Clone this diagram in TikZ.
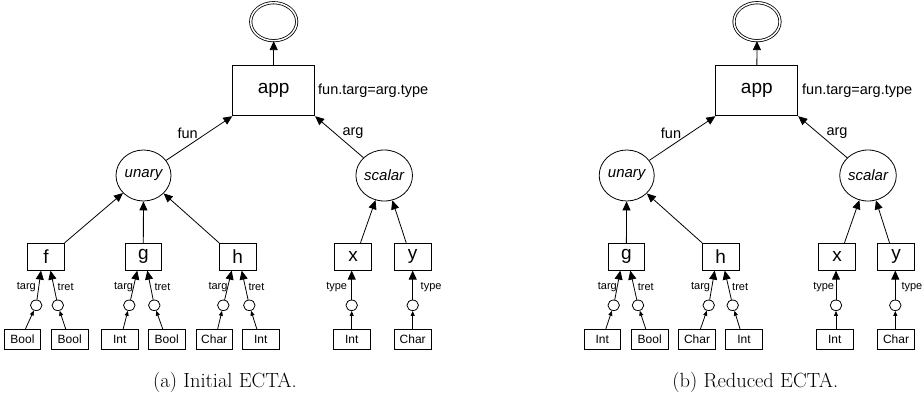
\documentclass[tikz,border=0pt]{standalone}
\usepackage{fontspec}
\newfontfamily\hv{Liberation Sans}
\usetikzlibrary{shapes.geometric,arrows.meta}
\tikzset{
  base/.style={line width=0.8pt},
  boxn/.style={draw, base, rectangle, minimum width=36.5pt, minimum height=27pt, inner sep=0pt, font=\hv\fontsize{19}{19}\selectfont},
  appn/.style={draw, base, rectangle, minimum width=82pt, minimum height=50pt, inner sep=0pt, font=\hv\fontsize{19}{19}\selectfont},
  leaf/.style={draw, base, rectangle, minimum width=36.5pt, minimum height=20.5pt, inner sep=0pt, font=\hv\fontsize{12}{12}\selectfont},
  st/.style={draw, base, ellipse, minimum width=11.5pt, minimum height=10.5pt, inner sep=0pt},
  cls/.style={draw, base, ellipse, minimum width=55pt, minimum height=51pt, inner sep=0pt, font=\hv\itshape\fontsize{15}{15}\selectfont},
  fin/.style={draw, base, ellipse, double, double distance=1.5pt, minimum width=46pt, minimum height=38pt, inner sep=0pt},
  lbl/.style={font=\hv\fontsize{11}{11}\selectfont, inner sep=0pt},
  elbl/.style={font=\hv\fontsize{14.5}{14.5}\selectfont, inner sep=0pt},
  capn/.style={font=\fontsize{20.5}{20.5}\selectfont, inner sep=0pt},
  arr/.style={base, -{Triangle[length=9pt,width=8pt]}},
  sarr/.style={base, -{Triangle[length=5pt,width=4pt]}}
}
\begin{document}
\begin{tikzpicture}[x=1pt,y=-1pt]
\useasboundingbox (0,0) rectangle (924,401);
% ---------------- left panel ----------------
\node[fin] (atop) at (273.7,21.7) {};
\node[appn] (aapp) at (273.7,90.8) {app};
\node[elbl, anchor=west] (acon) at (318,90.7) {fun.targ=arg.type};
\node[cls] (aun) at (143.5,175.5) {unary};
\node[cls] (asc) at (384.2,175.5) {scalar};
\node[elbl] (afun) at (187.7,133.3) {fun};
\node[elbl] (aarg) at (353,133.3) {arg};
\node[boxn] (af) at (46,256.7) {f};
\node[boxn] (ag) at (143.3,256.7) {g};
\node[boxn] (ah) at (237.7,256.7) {h};
\node[boxn] (ax) at (353,256.7) {x};
\node[boxn] (ay) at (412.7,256.7) {y};
\node[st] (af1) at (36.2,305.3) {};
\node[st] (af2) at (57.8,305.3) {};
\node[st] (ag1) at (129.3,305.3) {};
\node[st] (ag2) at (154.3,305.3) {};
\node[st] (ah1) at (223.3,305.3) {};
\node[st] (ah2) at (249.3,305.3) {};
\node[st] (ax1) at (351.7,305.3) {};
\node[st] (ay1) at (412.7,305.3) {};
\node[leaf] (al1) at (22.5,339.5) {Bool};
\node[leaf] (al2) at (69.7,339.5) {Bool};
\node[leaf] (al3) at (119.7,339.5) {Int};
\node[leaf] (al4) at (166.7,339.5) {Bool};
\node[leaf] (al5) at (214.2,339.5) {Char};
\node[leaf] (al6) at (260.8,339.5) {Int};
\node[leaf] (al7) at (351.7,339.5) {Int};
\node[leaf] (al8) at (412.7,339.5) {Char};
\node[lbl, anchor=east] (aft) at (36,287) {targ};
\node[lbl, anchor=west] (afr) at (57.5,287) {tret};
\node[lbl, anchor=east] (agt) at (133.3,287) {targ};
\node[lbl, anchor=west] (agr) at (154.3,287) {tret};
\node[lbl, anchor=east] (aht) at (227.7,287) {targ};
\node[lbl, anchor=west] (ahr) at (248.3,287) {tret};
\node[lbl, anchor=east] (axt) at (347.3,287) {type};
\node[lbl, anchor=west] (ayt) at (420.5,287) {type};
\node[capn] (acap) at (225,382.7) {(a) Initial ECTA.};
\draw[arr] (aapp) -- (atop);
\draw[arr] (aun) -- (aapp.south west);
\draw[arr] (asc) -- (aapp.south east);
\draw[arr] (af.north east) -- (aun);
\draw[arr] (ag) -- (aun);
\draw[arr] (ah.north west) -- (aun);
\draw[arr] ([xshift=7.5pt]ax.north) -- (asc);
\draw[arr] ([xshift=-6.5pt]ay.north) -- (asc);
\draw[arr] (af1) -- ([xshift=-5pt]af.south);
\draw[arr] (af2) -- ([xshift=4.5pt]af.south);
\draw[arr] (ag1) -- ([xshift=-6pt]ag.south);
\draw[arr] (ag2) -- ([xshift=4pt]ag.south);
\draw[arr] (ah1) -- ([xshift=-6pt]ah.south);
\draw[arr] (ah2) -- ([xshift=4pt]ah.south);
\draw[arr] (ax1) -- (ax.south -| ax1);
\draw[arr] (ay1) -- (ay.south -| ay1);
\draw[sarr] ([xshift=3pt]al1.north) -- (af1);
\draw[sarr] ([xshift=-4pt]al2.north) -- (af2);
\draw[sarr] ([xshift=3.5pt]al3.north) -- (ag1);
\draw[sarr] ([xshift=-4pt]al4.north) -- (ag2);
\draw[sarr] ([xshift=3.5pt]al5.north) -- (ah1);
\draw[sarr] ([xshift=-4pt]al6.north) -- (ah2);
\draw[sarr] (al7.north -| ax1) -- (ax1);
\draw[sarr] (al8.north -| ay1) -- (ay1);
% ---------------- right panel ----------------
\node[fin] (btop) at (757,21.7) {};
\node[appn] (bapp) at (756.8,90.8) {app};
\node[elbl, anchor=west] (bcon) at (802,90.7) {fun.targ=arg.type};
\node[cls] (bun) at (626.7,175.5) {unary};
\node[cls] (bsc) at (868,175.5) {scalar};
\node[elbl] (bfun) at (671,133.3) {fun};
\node[elbl] (barg) at (837,133.3) {arg};
\node[boxn] (bg) at (626.3,256.7) {g};
\node[boxn] (bh) at (720.7,256.7) {h};
\node[boxn] (bx) at (837,256.7) {x};
\node[boxn] (by) at (896,256.7) {y};
\node[st] (bg1) at (613.7,305.3) {};
\node[st] (bg2) at (638,305.3) {};
\node[st] (bh1) at (708.7,305.3) {};
\node[st] (bh2) at (732.7,305.3) {};
\node[st] (bx1) at (836,305.3) {};
\node[st] (by1) at (895.3,305.3) {};
\node[leaf] (bl1) at (602.3,339.5) {Int};
\node[leaf] (bl2) at (649.7,339.5) {Bool};
\node[leaf] (bl3) at (697,339.5) {Char};
\node[leaf] (bl4) at (744,339.5) {Int};
\node[leaf] (bl5) at (834.7,339.5) {Int};
\node[leaf] (bl6) at (896,339.5) {Char};
\node[lbl, anchor=east] (bgt) at (617,287) {targ};
\node[lbl, anchor=west] (bgr) at (637.7,287) {tret};
\node[lbl, anchor=east] (bht) at (710.3,287) {targ};
\node[lbl, anchor=west] (bhr) at (732,287) {tret};
\node[lbl, anchor=east] (bxt) at (834.3,287) {type};
\node[lbl, anchor=west] (byt) at (901.3,287) {type};
\node[capn] (bcap) at (755.3,382.7) {(b) Reduced ECTA.};
\draw[arr] (bapp) -- (btop);
\draw[arr] (bun) -- (bapp.south west);
\draw[arr] (bsc) -- (bapp.south east);
\draw[arr] (bg) -- (bun);
\draw[arr] (bh.north west) -- (bun);
\draw[arr] ([xshift=7.5pt]bx.north) -- (bsc);
\draw[arr] ([xshift=-6.5pt]by.north) -- (bsc);
\draw[arr] (bg1) -- ([xshift=-6pt]bg.south);
\draw[arr] (bg2) -- ([xshift=4pt]bg.south);
\draw[arr] (bh1) -- ([xshift=-6pt]bh.south);
\draw[arr] (bh2) -- ([xshift=4pt]bh.south);
\draw[arr] (bx1) -- (bx.south -| bx1);
\draw[arr] (by1) -- (by.south -| by1);
\draw[sarr] ([xshift=3.5pt]bl1.north) -- (bg1);
\draw[sarr] ([xshift=-4pt]bl2.north) -- (bg2);
\draw[sarr] ([xshift=3.5pt]bl3.north) -- (bh1);
\draw[sarr] ([xshift=-4pt]bl4.north) -- (bh2);
\draw[sarr] (bl5.north -| bx1) -- (bx1);
\draw[sarr] (bl6.north -| by1) -- (by1);
\end{tikzpicture}
\end{document}
